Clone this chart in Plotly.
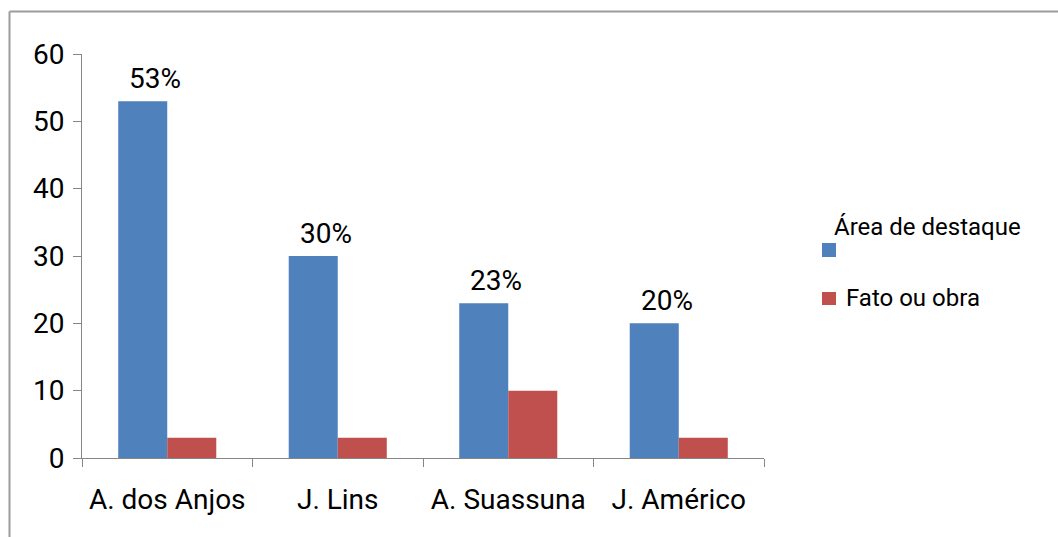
import plotly.graph_objects as go

# Data
categories = ["A. dos Anjos", "J. Lins", "A. Suassuna", "J. Américo"]
area_destaque = [53, 30, 23, 20]
fato_obra = [3, 3, 10, 3]
area_labels = [f"{v}%" for v in area_destaque]

series_names = ["Área de destaque", "Fato ou obra"]
BLUE = "#4F81BD"
RED = "#C0504D"
AXIS_GRAY = "#868686"
FONT = "Roboto"

W, H = 1058, 537
ML, MR, MT, MB = 82, 294, 54, 79
PW, PH = W - ML - MR, H - MT - MB


def px(x):
    return (x - ML) / PW


def py(y):
    return (H - MB - y) / PH


fig = go.Figure()
fig.add_trace(go.Bar(
    x=categories, y=area_destaque, name=series_names[0],
    marker=dict(color=BLUE, line=dict(width=0)),
    showlegend=False,
))
fig.add_trace(go.Bar(
    x=categories, y=fato_obra, name=series_names[1],
    marker=dict(color=RED, line=dict(width=0)),
    showlegend=False,
))

# Percentage labels above the blue bars
for cat, val, lab in zip(categories, area_destaque, area_labels):
    fig.add_annotation(
        x=cat, y=val, xref="x", yref="y", text=lab, showarrow=False,
        xanchor="center", yanchor="bottom", xshift=-12, yshift=4,
        font=dict(family=FONT, size=28, color="black"),
    )

# Outer chart frame (top and left edges)
frame = dict(type="line", xref="paper", yref="paper",
             line=dict(color="#9c9c9c", width=2), layer="above")
fig.add_shape(**frame, x0=px(9.5), y0=py(11.5), x1=px(W), y1=py(11.5))
fig.add_shape(**frame, x0=px(9.5), y0=py(11.5), x1=px(9.5), y1=py(H))

# Legend: colour keys and labels
fig.add_shape(type="rect", xref="paper", yref="paper",
              x0=px(822), x1=px(836), y0=py(243), y1=py(257),
              fillcolor=BLUE, line=dict(width=0))
fig.add_shape(type="rect", xref="paper", yref="paper",
              x0=px(822), x1=px(836), y0=py(292), y1=py(305),
              fillcolor=RED, line=dict(width=0))
fig.add_annotation(x=px(832), y=py(227), xref="paper", yref="paper",
                   text=series_names[0], showarrow=False,
                   xanchor="left", yanchor="middle",
                   font=dict(family=FONT, size=24, color="black"))
fig.add_annotation(x=px(844), y=py(298), xref="paper", yref="paper",
                   text=series_names[1], showarrow=False,
                   xanchor="left", yanchor="middle",
                   font=dict(family=FONT, size=24, color="black"))

fig.update_layout(
    width=W, height=H,
    margin=dict(l=ML, r=MR, t=MT, b=MB, pad=0),
    paper_bgcolor="white", plot_bgcolor="white",
    barmode="group", bargap=0.425, bargroupgap=0,
    font=dict(family=FONT, size=28, color="black"),
    showlegend=False,
)
fig.update_xaxes(
    type="category", tickson="boundaries",
    ticks="outside", ticklen=8, tickcolor=AXIS_GRAY, tickwidth=1,
    showline=True, linecolor=AXIS_GRAY, linewidth=1,
    showgrid=False, zeroline=False, ticklabelstandoff=16,
    tickfont=dict(family=FONT, size=28, color="black"),
)
fig.update_yaxes(
    range=[0, 60], dtick=10,
    ticks="outside", ticklen=8, tickcolor=AXIS_GRAY, tickwidth=1,
    showline=True, linecolor=AXIS_GRAY, linewidth=1,
    showgrid=False, zeroline=False, ticklabelstandoff=3,
    tickfont=dict(family=FONT, size=28, color="black"),
)

fig.write_html("out.html")
